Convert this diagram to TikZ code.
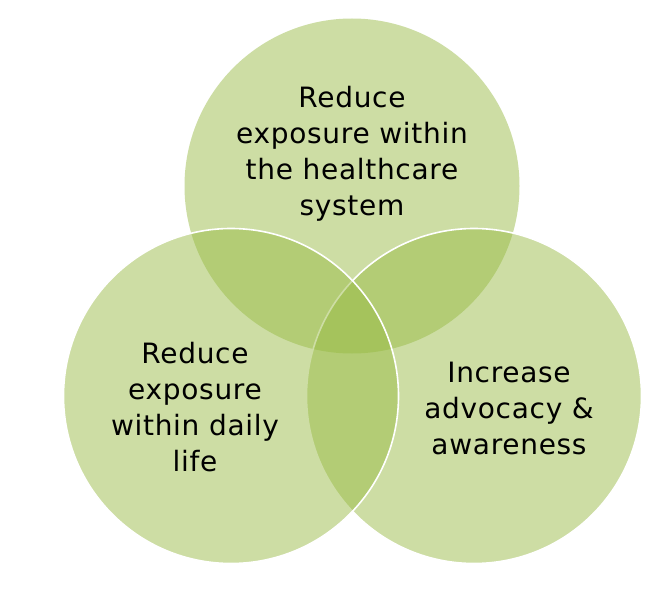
\documentclass[tikz,border=0pt]{standalone}
\usepackage{fontspec}
\setmainfont[LetterSpace=2.5]{DejaVu Sans}
\definecolor{vgreen}{RGB}{151,186,66}
\begin{document}
\begin{tikzpicture}[x=1pt,y=-1pt,
  venn/.style={circle, minimum size=335pt, inner sep=0pt, fill=vgreen, fill opacity=0.48},
  vennline/.style={venn, draw=white, line width=1.6pt},
  lbl/.style={align=center, font=\fontsize{28}{36}\selectfont, text=black, text opacity=1}]
\useasboundingbox (0,0) rectangle (670,594);
\fill[white] (0,0) rectangle (670,594);
\node[venn] (top) at (352,186) {};
\node[vennline] (right) at (474,396) {};
\node[vennline] (left) at (231,396) {};
\node[lbl] (ttop) at (352,154) {Reduce\\exposure within\\the healthcare\\system};
\node[lbl] (tleft) at (195,407) {Reduce\\exposure\\within daily\\life};
\node[lbl] (tright) at (509,408) {Increase\\advocacy \&\\awareness};
\end{tikzpicture}
\end{document}
